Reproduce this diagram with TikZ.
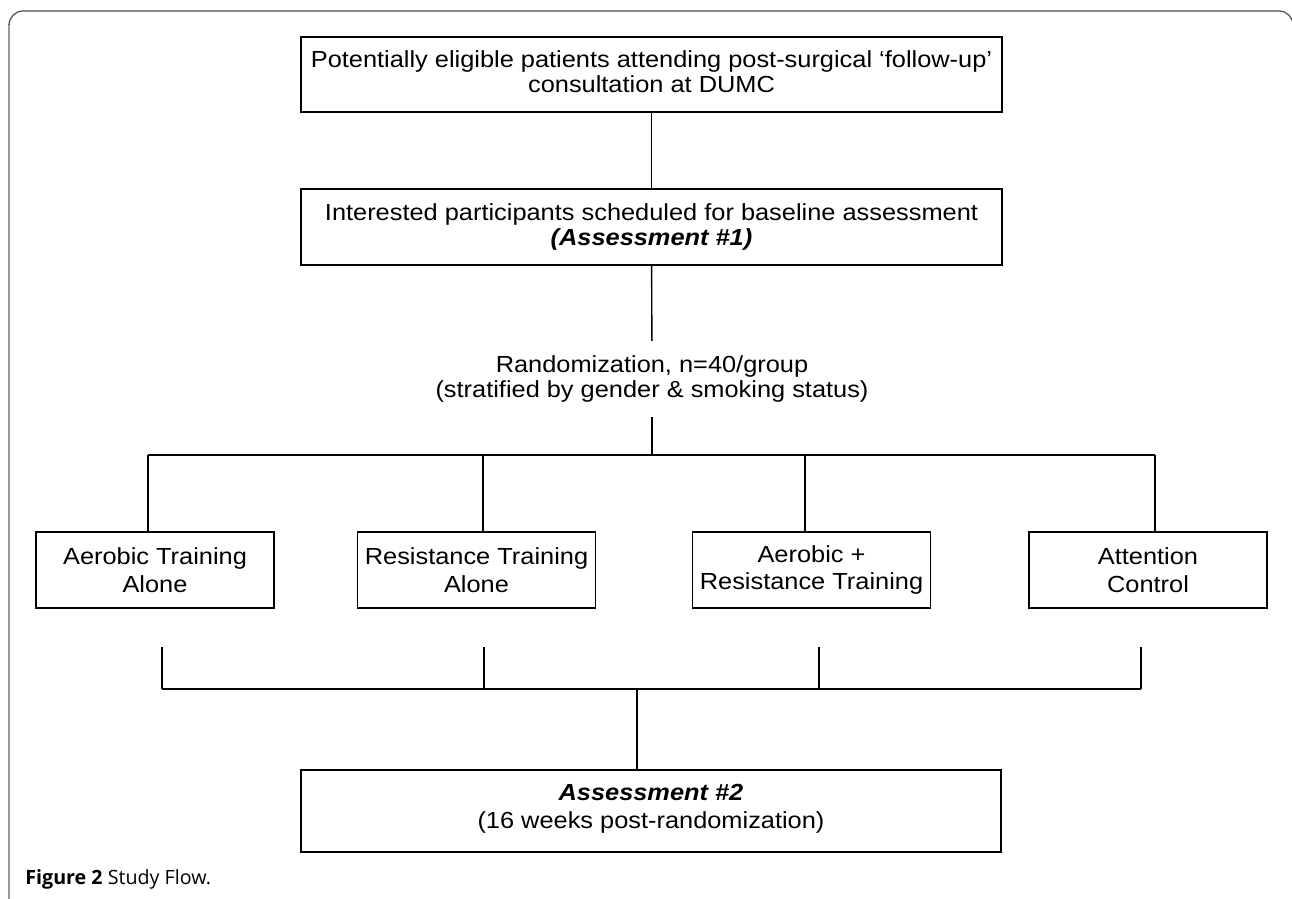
\documentclass[tikz,border=0pt]{standalone}
\usepackage{fontspec}
\setmainfont{Liberation Sans}[FakeStretch=1.09]
\newfontfamily\capfont{Open Sans}

\tikzset{
  flowbox/.style={draw, line width=1.1pt, inner sep=0pt, align=center,
    minimum width=14.02cm, minimum height=1.5cm,
    font=\fontsize{13.25}{14.2}\selectfont},
  armbox/.style={flowbox, minimum width=4.76cm, minimum height=1.52cm},
  link/.style={line width=0.8pt},
}

\begin{document}
\begin{tikzpicture}[x=0.02cm, y=-0.02cm]
        \useasboundingbox (0,0) rectangle (1292,899);

        % page frame
        \draw[black!40, line width=0.7pt] (9,899) -- (9,24);
        \draw[black!70, line width=0.7pt, rounded corners=8] (9,24) -- (9,11) -- (1293,11) -- (1293,30);

        \node[flowbox] (elig) at (651.5,74.5) {Potentially eligible patients attending post-surgical ‘follow-up’\\consultation at DUMC\rule[-3.4pt]{0pt}{3.4pt}};
        \node[flowbox, minimum height=1.52cm] (base) at (651.5,227) {Interested participants scheduled for baseline assessment\\\textbf{\textit{(Assessment \#1)}}};
        \node[align=center, inner sep=8.2pt, font=\fontsize{13.25}{14.2}\selectfont] (rand) at (652,379) {Randomization, n=40/group\\(stratified by gender \& smoking status)};

        \node[armbox] (aer) at (155,570) {Aerobic Training\\[1.7pt]Alone};
        \node[armbox] (res) at (476.5,570) {Resistance Training\\[1.7pt]Alone};
        \node[armbox] (comb) at (811.5,570) {Aerobic +\\[1.7pt]Resistance Training};
        \node[armbox] (ctrl) at (1148,570) {Attention\\[1.7pt]Control};

        \node[flowbox, minimum width=14cm, minimum height=1.64cm] (ass) at (651,811) {\textbf{\textit{Assessment \#2}}\\[2pt](16 weeks post-randomization)\rule[-5pt]{0pt}{5pt}};

        \node[anchor=base west, inner sep=0pt, font=\capfont\fontsize{11.2}{13}\selectfont] (cap) at (25,884) {\textbf{Figure 2} Study Flow.};

        % split into the four arms
        \coordinate (split) at (652,455);
        \coordinate (s1) at (148,455);
        \coordinate (s2) at (483,455);
        \coordinate (s3) at (805,455);
        \coordinate (s4) at (1155,455);

        \draw[link] (elig) -- (base);
        \draw[link] (base) -- (rand);
        \draw[link] (rand) -- (split);
        \draw[link] (s1) -- (s4);
        \draw[link] (s1) -- (s1 |- aer.north);
        \draw[link] (s2) -- (s2 |- res.north);
        \draw[link] (s3) -- (s3 |- comb.north);
        \draw[link] (s4) -- (s4 |- ctrl.north);

        % join back to assessment 2
        \coordinate (j1) at (162,689);
        \coordinate (j2) at (484,689);
        \coordinate (j3) at (819,689);
        \coordinate (j4) at (1141,689);
        \coordinate (join) at (637,689);

        \draw[link] (j1) -- (j4);
        \draw[link] (j1) -- ++(0,-42);
        \draw[link] (j2) -- ++(0,-42);
        \draw[link] (j3) -- ++(0,-42);
        \draw[link] (j4) -- ++(0,-42);
        \draw[link] (join) -- (join |- ass.north);
    \end{tikzpicture}
\end{document}
